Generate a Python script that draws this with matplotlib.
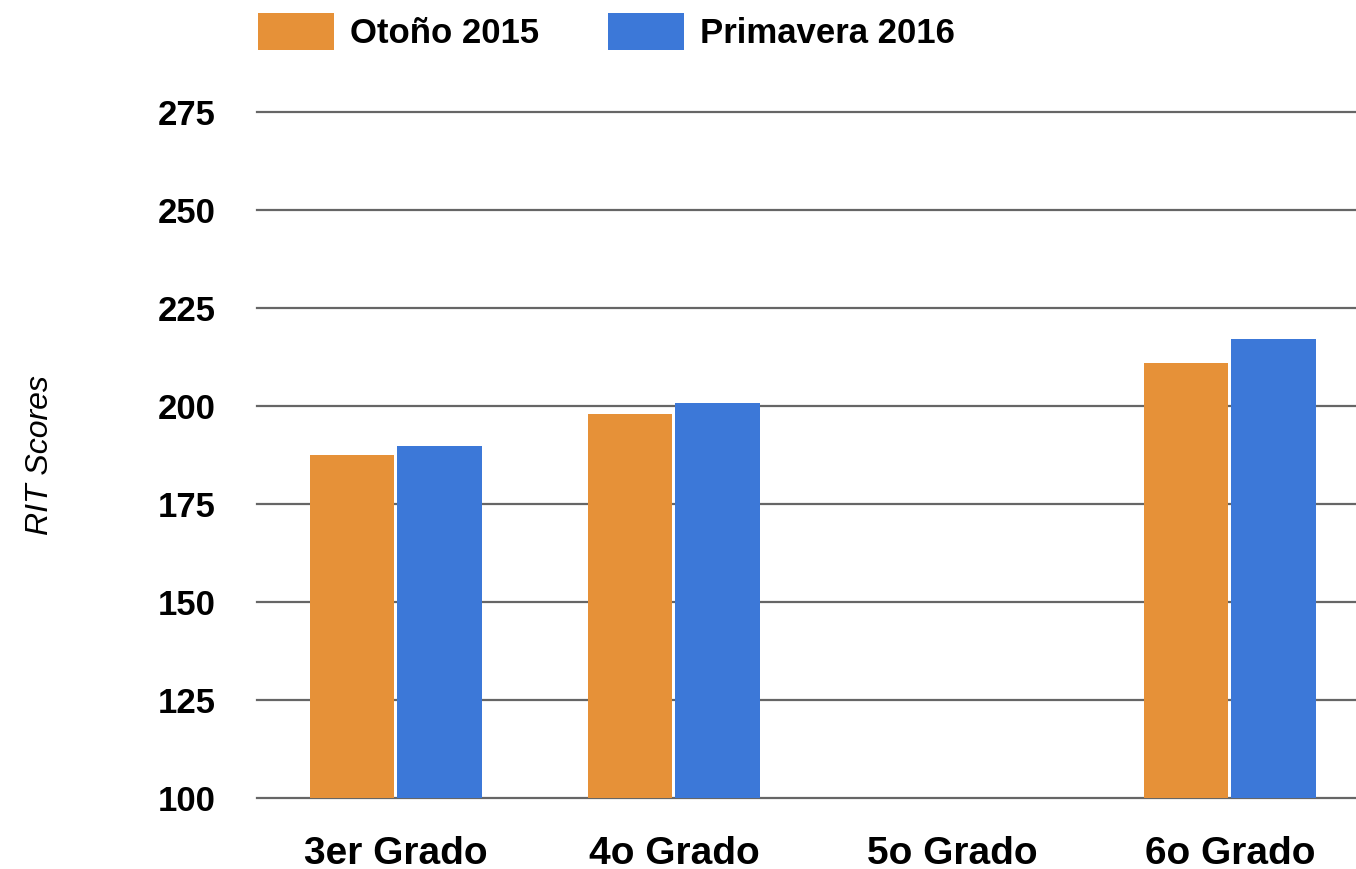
import matplotlib.pyplot as plt
import numpy as np

plt.rcParams['font.family'] = ['Liberation Sans', 'DejaVu Sans']

grados = ["3er Grado", "4o Grado", "5o Grado", "6o Grado"]
otono_2015 = [187.5, 198.0, np.nan, 210.9]
primavera_2016 = [189.8, 200.9, np.nan, 217.1]
yticks = [100, 125, 150, 175, 200, 225, 250, 275]

fig = plt.figure(figsize=(13.56, 8.69), dpi=100)
ax = fig.add_axes([0.1895, 0.0817, 0.82, 0.7893])

x = np.arange(len(grados))
w = 0.305
ax.bar(x - 0.158, otono_2015, width=w, color="#e69138", label="Otoño 2015", zorder=3)
ax.bar(x + 0.158, primavera_2016, width=w, color="#3c78d8", label="Primavera 2016", zorder=3)

ax.set_xlim(-0.5, len(grados) - 0.5)
ax.set_ylim(100, 275)
ax.set_yticks(yticks)
ax.set_xticks(x)
ax.set_xticklabels(grados, fontsize=28, fontweight="bold")
for t in ax.get_yticklabels():
    t.set_fontsize(25)
    t.set_fontweight("bold")
ax.tick_params(axis="both", length=0)
ax.tick_params(axis="y", pad=30)
ax.tick_params(axis="x", pad=27)
ax.grid(axis="y", color="#666666", linewidth=1.6, zorder=0)
for gl in ax.get_ygridlines():
    gl.set_clip_on(False)
for s in ax.spines.values():
    s.set_visible(False)

ax.set_ylabel("RIT Scores", fontsize=23, style="italic", labelpad=74)

ax.legend(loc="lower left", bbox_to_anchor=(-0.012, 1.07), ncol=2, frameon=False,
          prop={"size": 25, "weight": "bold"}, handlelength=2.2, handleheight=1.25,
          columnspacing=2.0, handletextpad=0.45, borderaxespad=0)

fig.savefig("out.png", dpi=100)
